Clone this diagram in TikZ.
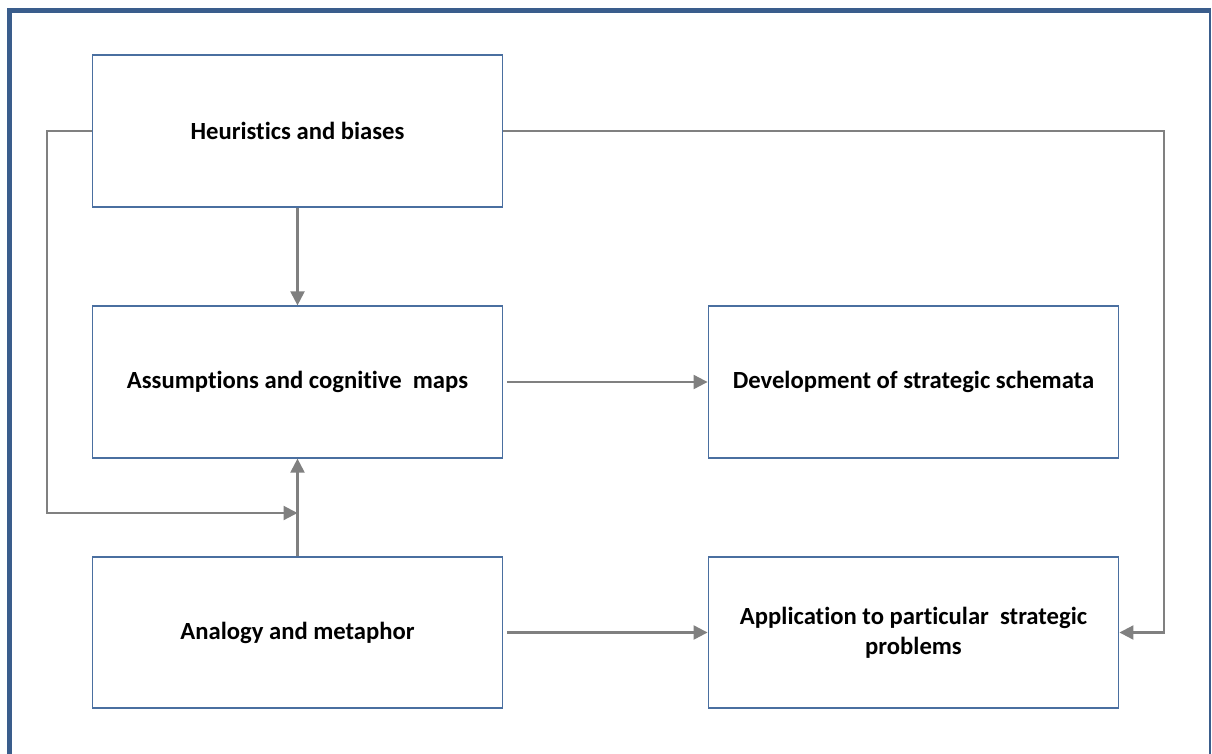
\documentclass[tikz,border=0pt]{standalone}
\usepackage{fontspec}
\setmainfont[Ligatures={NoCommon}]{Carlito}
\usetikzlibrary{arrows.meta}
\definecolor{frameblue}{HTML}{3A5D8C}
\definecolor{boxblue}{HTML}{4A6FA0}
\definecolor{linkgray}{HTML}{808080}
\begin{document}
\begin{tikzpicture}[x=0.75pt,y=-0.75pt,
  box/.style={draw=boxblue,line width=1.4pt,minimum width=307.5pt,minimum height=113.5pt,
    font=\fontsize{18.5}{22.5}\selectfont\bfseries,align=center,inner sep=0pt,fill=white},
  link/.style={draw=linkgray,line width=1.6pt,-{Triangle[length=10.5pt,width=10.5pt]}}]
\useasboundingbox (0,0) rectangle (1212,753);
% outer frame
\draw[frameblue,line width=1.2pt] (1210,10) -- (1210,760);
\draw[frameblue,line width=4pt] (9.5,760) -- (9.5,10.5) -- (1211,10.5);
% boxes
\node[box] (heur) at (297.5,131) {Heuristics and biases};
\node[box] (assm) at (297.5,382) {Assumptions and cognitive\ \ maps};
\node[box] (anal) at (297.5,632.5) {Analogy and metaphor};
\node[box] (dev)  at (913.5,382) {Development of strategic schemata};
\node[box] (app)  at (913.5,632.5) {Application to particular\ \ strategic\\problems};
% connectors
\coordinate (lc) at (47,131);
\coordinate (join) at (297.5,513);
\coordinate (rc) at (1164,131);
\draw[link] (heur.south) -- (assm.north);
\draw[link] (anal.north) -- (assm.south);
\draw[link] (heur.west) -- (lc) |- (join);
\draw[link] ([xshift=3pt]assm.east) -- (dev.west);
\draw[link] ([xshift=3pt]anal.east) -- (app.west);
\draw[link] (heur.east) -- (rc) |- (app.east);
\end{tikzpicture}
\end{document}
